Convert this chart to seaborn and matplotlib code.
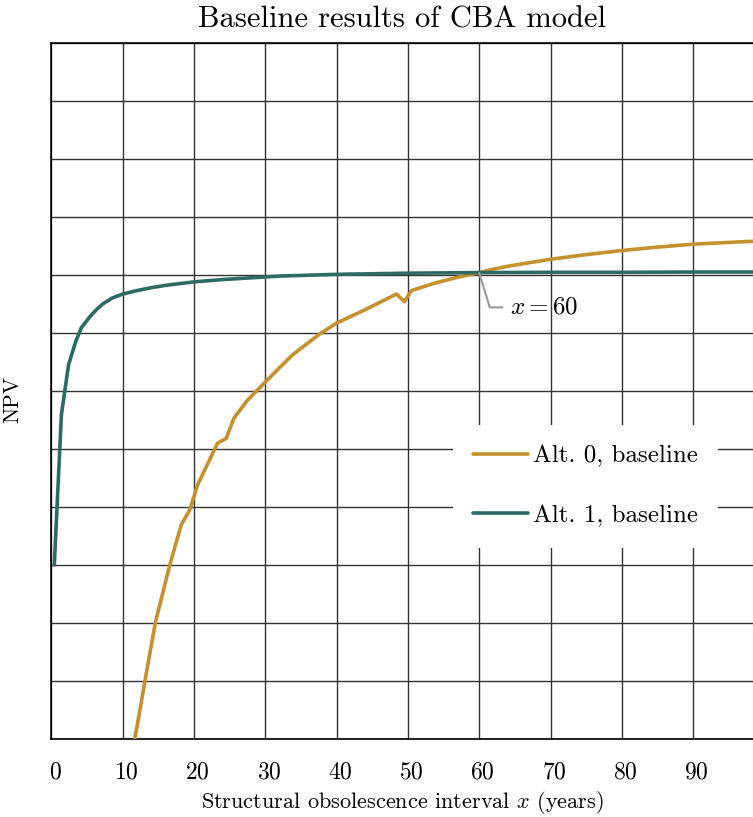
import pandas as pd
import matplotlib
matplotlib.use("Agg")
import matplotlib.pyplot as plt
import matplotlib.transforms as mtransforms
import seaborn as sns

# Dati (NPV in unita' arbitrarie, griglia = 1 unita')
alt0_x = [11.4, 12.5, 13.1, 14.6, 16.6, 18.2, 19.4, 20.5, 23.3, 24.5, 25.6, 27.5,
          31.9, 33.8, 37.5, 40.0, 44.0, 48.4, 49.5, 50.5, 53.8, 57.0, 60.0, 62.0,
          64.0, 66.0, 68.0, 70.0, 75.0, 80.0, 85.0, 90.0, 95.0, 98.4]
alt0_y = [-8.2, -7.44, -7.01, -5.98, -5.0, -4.31, -4.05, -3.62, -2.90, -2.82, -2.47, -2.16,
          -1.61, -1.38, -1.03, -0.83, -0.60, -0.33, -0.46, -0.27, -0.14, -0.04, 0.04, 0.10,
          0.15, 0.19, 0.23, 0.27, 0.35, 0.42, 0.48, 0.53, 0.56, 0.58]

alt1_x = [0.4, 1.4, 2.4, 3.4, 4.2, 5.4, 6.3, 7.2, 8.5, 10.0, 12.0, 14.0, 16.0, 18.0,
          20.0, 24.0, 28.0, 32.0, 40.0, 50.0, 60.0, 70.0, 80.0, 90.0, 98.4]
alt1_y = [-5.0, -2.41, -1.55, -1.15, -0.91, -0.72, -0.60, -0.50, -0.40, -0.33, -0.27, -0.22,
          -0.18, -0.15, -0.12, -0.08, -0.05, -0.02, 0.01, 0.03, 0.04, 0.045, 0.045, 0.05, 0.05]

series_names = ["Alt. 0, baseline", "Alt. 1, baseline"]
colors = ["#C4912F", "#2D6A62"]
x_ticks = [0, 10, 20, 30, 40, 50, 60, 70, 80, 90]
crossing_x = 60

df = pd.concat([
    pd.DataFrame({"x": alt0_x, "NPV": alt0_y, "serie": series_names[0]}),
    pd.DataFrame({"x": alt1_x, "NPV": alt1_y, "serie": series_names[1]}),
])

sns.set_theme(style="white")
plt.rcParams["font.family"] = ["cmr10", "DejaVu Serif"]
plt.rcParams["mathtext.fontset"] = "cm"
plt.rcParams["axes.unicode_minus"] = False
plt.rcParams["axes.formatter.use_mathtext"] = True
plt.rcParams["text.color"] = "black"
plt.rcParams["axes.labelcolor"] = "black"
plt.rcParams["xtick.color"] = "black"

fig = plt.figure(figsize=(7.53, 8.17), dpi=100)
ax = fig.add_axes([0.0683, 0.0955, 0.9317, 0.852])

sns.lineplot(data=df, x="x", y="NPV", hue="serie", palette=dict(zip(series_names, colors)),
             estimator=None, sort=False, linewidth=2.6, ax=ax, zorder=3)

ax.set_xlim(0, 98.4)
ax.set_ylim(-8, 4)
ax.set_xticks(x_ticks)
ax.set_yticks(range(-8, 5))
ax.set_yticklabels([])
ax.grid(True, color="#333333", linewidth=1.0, zorder=0)
ax.set_axisbelow(True)
ax.tick_params(axis="x", length=0, labelsize=17, pad=16)
ax.tick_params(axis="y", length=0, pad=0)
# le etichette dei tick sono leggermente spostate a destra nell'originale
offset = mtransforms.ScaledTranslation(3.5 / 100, 0, fig.dpi_scale_trans)
for lbl in ax.get_xticklabels():
    lbl.set_transform(lbl.get_transform() + offset)
for side in ["left", "bottom", "top"]:
    ax.spines[side].set_color("black")
    ax.spines[side].set_linewidth(1.2)
ax.spines["right"].set_visible(False)

ax.set_xlabel("Structural obsolescence interval $x$ (years)", fontsize=16, labelpad=4)
ax.set_ylabel("NPV", fontsize=15.5)
ax.yaxis.set_label_coords(-0.042, 0.487)
ax.set_title("Baseline results of CBA model", fontsize=22, pad=11)

# Annotazione del punto di incrocio
ax.annotate(f"$x = {crossing_x}$", xy=(crossing_x, 0.035), xytext=(64.3, -0.56),
            fontsize=18, ha="left", va="center", zorder=4,
            arrowprops=dict(arrowstyle="-", color="#9A9A9A", linewidth=1.5,
                            connectionstyle="angle,angleA=0,angleB=-73,rad=0",
                            relpos=(0, 0.5), shrinkA=3, shrinkB=0))

leg = ax.legend(loc="center", bbox_to_anchor=(0.7776, 0.4051), bbox_transform=fig.transFigure,
                fontsize=18, frameon=True, fancybox=False, framealpha=1, edgecolor="none",
                facecolor="white", handlelength=2.2, handletextpad=0.18, labelspacing=1.48,
                borderpad=0.82, borderaxespad=0, title=None)
leg.set_zorder(5)

fig.savefig("out.png", dpi=100)
